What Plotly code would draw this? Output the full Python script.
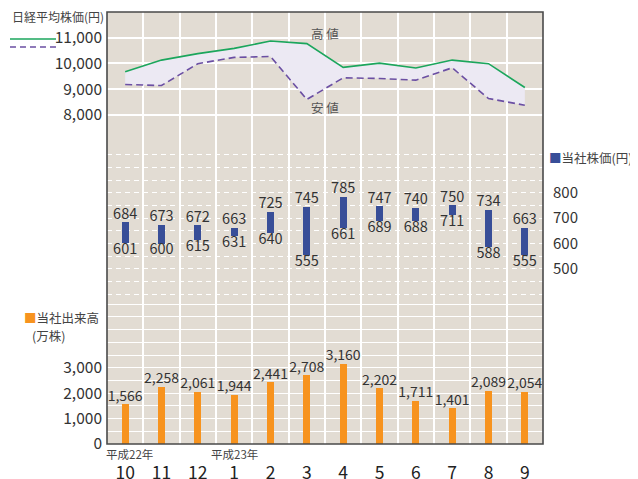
import plotly.graph_objects as go

# ---- data ----
months = ["10", "11", "12", "1", "2", "3", "4", "5", "6", "7", "8", "9"]
nikkei_high = [9680, 10130, 10380, 10585, 10870, 10770, 9845, 10010, 9820, 10130, 9990, 9065]
nikkei_low = [9180, 9140, 9990, 10235, 10270, 8600, 9440, 9415, 9350, 9830, 8635, 8375]
price_high = [684, 673, 672, 663, 725, 745, 785, 747, 740, 750, 734, 663]
price_low = [601, 600, 615, 631, 640, 555, 661, 689, 688, 711, 588, 555]
volume = [1566, 2258, 2061, 1944, 2441, 2708, 3160, 2202, 1711, 1401, 2089, 2054]

nikkei_ticks = [8000, 9000, 10000, 11000]
price_ticks = [500, 600, 700, 800]
volume_ticks = [0, 1000, 2000, 3000]

FONT = "Noto Sans CJK JP"
TXT = "#333333"
BG = "#E2DCD3"
GREEN = "#1BA65C"
PURPLE = "#6B4FA3"
FILL = "#ECE9F3"
BLUE = "#384E98"
ORANGE = "#F7931E"

x = list(range(len(months)))

fig = go.Figure()

# ---- top panel: Nikkei ----
fig.add_trace(go.Scatter(x=x, y=nikkei_high, mode="lines", line=dict(width=0, color=GREEN),
                         hoverinfo="skip", showlegend=False, xaxis="x", yaxis="y3"))
fig.add_trace(go.Scatter(x=x, y=nikkei_low, mode="lines", fill="tonexty", fillcolor=FILL,
                         line=dict(color=PURPLE, width=1.6, dash="7px,4px"),
                         showlegend=False, xaxis="x", yaxis="y3"))
fig.add_trace(go.Scatter(x=x, y=nikkei_high, mode="lines", line=dict(color=GREEN, width=1.6),
                         showlegend=False, xaxis="x", yaxis="y3"))

# ---- middle panel: share price range ----
fig.add_trace(go.Bar(x=x, base=price_low, y=[h - l for h, l in zip(price_high, price_low)],
                     width=0.19, marker=dict(color=BLUE, line=dict(width=0)),
                     showlegend=False, xaxis="x", yaxis="y2"))
fig.add_trace(go.Scatter(x=x, y=price_high, mode="text", text=[str(v) for v in price_high],
                         textposition="top center", textfont=dict(family=FONT, size=14.5, color=TXT),
                         cliponaxis=False, showlegend=False, xaxis="x", yaxis="y2"))
fig.add_trace(go.Scatter(x=x, y=price_low, mode="text", text=[str(v) for v in price_low],
                         textposition="bottom center", textfont=dict(family=FONT, size=14.5, color=TXT),
                         cliponaxis=False, showlegend=False, xaxis="x", yaxis="y2"))

# ---- bottom panel: volume ----
fig.add_trace(go.Bar(x=x, y=volume, width=0.19, marker=dict(color=ORANGE, line=dict(width=0)),
                     showlegend=False, xaxis="x", yaxis="y"))
fig.add_trace(go.Scatter(x=x, y=volume, mode="text", text=[f"{v:,}" for v in volume],
                         textposition="top center", textfont=dict(family=FONT, size=14, color=TXT),
                         cliponaxis=False, showlegend=False, xaxis="x", yaxis="y"))

b1 = 144 / 432
b2 = 297 / 432

# page has an 8px body margin; figure is sized/offset so the plot area lands at page x 107..543, y 12..444
fig.update_layout(
    width=630, height=471,
    margin=dict(l=99, r=95, t=4, b=35, autoexpand=False),
    paper_bgcolor="white",
    plot_bgcolor=BG,
    font=dict(family=FONT, color=TXT),
    bargap=0,
    xaxis=dict(
        domain=[0, 1], anchor="y", range=[-0.5, 11.5], automargin=False,
        tickmode="array", tickvals=x, ticktext=months,
        tickfont=dict(size=17.5, color="#222222"),
        ticks="", showgrid=False, zeroline=False,
        ticklabelstandoff=16,
        minor=dict(tickmode="array", tickvals=[i + 0.5 for i in x[:-1]],
                   showgrid=True, gridcolor="white", gridwidth=1.5, ticks=""),
        showline=False,
    ),
    yaxis=dict(
        domain=[0, b1], anchor="x", range=[0, 5669], automargin=False,
        tickmode="array", tickvals=list(range(0, 5501, 500)),
        ticktext=[f"{v:,}" if v in volume_ticks else "" for v in range(0, 5501, 500)],
        tickfont=dict(size=15.5), showgrid=True, gridcolor="white", gridwidth=1.2,
        zeroline=False, ticks="", ticklabelstandoff=4,
    ),
    yaxis2=dict(
        domain=[b1, b2], anchor="x", side="right", range=[378, 980], automargin=False,
        tickmode="array", tickvals=list(range(400, 951, 50)),
        ticktext=[str(v) if v in price_ticks else "" for v in range(400, 951, 50)],
        tickfont=dict(size=15), showgrid=True, gridcolor="white", gridwidth=1,
        griddash="5px,4px", zeroline=False, ticks="", ticklabelstandoff=9,
    ),
    yaxis3=dict(
        domain=[b2, 1], anchor="x", range=[6750, 12000], automargin=False,
        tickmode="array", tickvals=nikkei_ticks,
        ticktext=[f"{v:,}" for v in nikkei_ticks],
        tickfont=dict(size=15.5), showgrid=True, gridcolor="white", gridwidth=1.5,
        zeroline=False, ticks="", ticklabelstandoff=4,
    ),
)

# frame
fig.add_shape(type="rect", xref="paper", yref="paper", x0=0, x1=1, y0=0, y1=1,
              line=dict(color="#4A4A4A", width=1.6), fillcolor="rgba(0,0,0,0)", layer="above")

# legend line samples for Nikkei
fig.add_shape(type="line", xref="paper", yref="paper", x0=-0.2225, x1=-0.117, y0=0.9375, y1=0.9375,
              line=dict(color=GREEN, width=1.6))
fig.add_shape(type="line", xref="paper", yref="paper", x0=-0.2225, x1=-0.117, y0=0.919, y1=0.919,
              line=dict(color=PURPLE, width=1.6, dash="6px,4px"))

ann = [
    dict(text="日経平均株価(円)", x=-0.2225, y=(444 - 17) / 432, xanchor="left", font=dict(size=12, color="#444444")),
    dict(text=f"<span style='color:{BLUE}'>■</span>当社株価(円)", x=(547 - 107) / 436, y=(444 - 158) / 432,
         xanchor="left", font=dict(size=12.5, color="#444444")),
    dict(text=f"<span style='color:{ORANGE}'>■</span>当社出来高", x=(22 - 107) / 436, y=(444 - 317) / 432,
         xanchor="left", font=dict(size=12.5, color="#444444")),
    dict(text="(万株)", x=(30 - 107) / 436, y=(444 - 335) / 432,
         xanchor="left", font=dict(size=12.5, color="#444444")),
]
for a in ann:
    fig.add_annotation(xref="paper", yref="paper", yanchor="middle", showarrow=False, **a)

fig.add_annotation(text="高 値", x=5.5, y=11180, xref="x", yref="y3", showarrow=False,
                   font=dict(size=12.5, color="#555555"))
fig.add_annotation(text="安 値", x=5.5, y=8270, xref="x", yref="y3", showarrow=False,
                   font=dict(size=12.5, color="#555555"))
fig.add_annotation(text="平成22年", x=0.13, y=0, xref="x", yref="paper", yshift=-10, showarrow=False,
                   yanchor="middle", font=dict(size=11.5, color="#444444"))
fig.add_annotation(text="平成23年", x=3, y=0, xref="x", yref="paper", yshift=-10, showarrow=False,
                   yanchor="middle", font=dict(size=11.5, color="#444444"))

fig.write_html("out.html")
